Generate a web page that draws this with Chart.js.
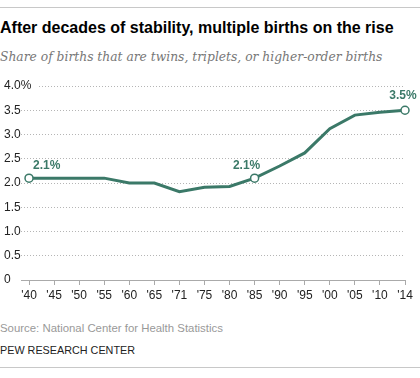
<!DOCTYPE html>
<html>
<head>
<meta charset="utf-8">
<script src="https://cdn.jsdelivr.net/npm/chart.js@4"></script>
<style>
  html, body { margin: 0; padding: 0; background: #fff; }
  body { width: 420px; height: 378px; position: relative; overflow: hidden; font-family: "Liberation Sans", Arial, sans-serif; }
  .rule { position: absolute; left: 0; width: 420px; height: 1px; background: #c8c8c8; }
  #title { position: absolute; left: 0; top: 18px; font-size: 16px; font-weight: bold; color: #000; white-space: nowrap; line-height: 20px; }
  #subtitle { position: absolute; left: 0; top: 48px; font-size: 12.3px; font-style: italic; color: #777; white-space: nowrap; font-family: "DejaVu Serif", "Liberation Serif", serif; line-height: 18px; }
  #wrap { position: absolute; left: 0; top: 70px; width: 420px; height: 240px; }
  #source { position: absolute; left: 0; top: 321px; font-size: 11.4px; color: #999; white-space: nowrap; line-height: 14px; }
  #org { position: absolute; left: 0; top: 343px; font-size: 10.8px; color: #222; white-space: nowrap; line-height: 14px; }
</style>
</head>
<body>
<div class="rule" style="top:7px"></div>
<div id="title">After decades of stability, multiple births on the rise</div>
<div id="subtitle">Share of births that are twins, triplets, or higher-order births</div>
<div id="wrap"><canvas id="c" width="420" height="240"></canvas></div>
<div id="source">Source: National Center for Health Statistics</div>
<div id="org">PEW RESEARCH CENTER</div>
<div class="rule" style="top:367px"></div>
<script>
const categories = ["'40","'45","'50","'55","'60","'65","'71","'75","'80","'85","'90","'95","'00","'05","'10","'14"];
const shareValues = [2.1, 2.1, 2.1, 2.1, 2.0, 2.0, 1.82, 1.91, 1.93, 2.1, 2.35, 2.62, 3.12, 3.4, 3.46, 3.5];
const yTickLabels = {0: "0", 0.5: "0.5", 1: "1.0", 1.5: "1.5", 2: "2.0", 2.5: "2.5", 3: "3.0", 3.5: "3.5", 4: "4.0%"};
const labelledPoints = [0, 9, 15];
const pointLabels = ["2.1%", "2.1%", "3.5%"];

const GREEN = '#3b7968';

const labelPlugin = {
  id: 'pointLabels',
  afterDatasetsDraw(chart) {
    const meta = chart.getDatasetMeta(0);
    const ctx = chart.ctx;
    ctx.save();
    ctx.font = 'bold 12px "Liberation Sans", Arial, sans-serif';
    ctx.fillStyle = GREEN;
    ctx.textBaseline = 'middle';
    labelledPoints.forEach((idx, k) => {
      const p = meta.data[idx];
      let x = p.x, y = p.y;
      if (k === 0) { ctx.textAlign = 'left'; x = p.x + 4; y = p.y - 12; }
      else if (k === 1) { ctx.textAlign = 'center'; x = p.x - 8; y = p.y - 12; }
      else { ctx.textAlign = 'center'; x = p.x - 2; y = p.y - 15; }
      ctx.fillText(pointLabels[k], x, y);
    });
    ctx.restore();
  }
};

new Chart(document.getElementById('c'), {
  type: 'line',
  data: {
    datasets: [{
      data: shareValues.map((v, i) => ({x: i, y: v})),
      borderColor: GREEN,
      borderWidth: 3,
      tension: 0,
      pointRadius: ctx => labelledPoints.includes(ctx.dataIndex) ? 4 : 0,
      pointHoverRadius: 0,
      pointBackgroundColor: '#fff',
      pointBorderColor: GREEN,
      pointBorderWidth: 1.5,
      clip: false
    }]
  },
  options: {
    responsive: false,
    animation: false,
    events: [],
    layout: { padding: { left: 4, right: 15, top: 16, bottom: 6 } },
    plugins: { legend: { display: false }, tooltip: { enabled: false } },
    scales: {
      x: {
        type: 'linear',
        min: -0.32,
        max: categories.length - 1,
        afterFit(s) { s.height = 24; },
        ticks: {
          stepSize: 1,
          includeBounds: false,
          autoSkip: false,
          maxRotation: 0,
          padding: 3,
          color: '#222',
          font: { size: 12, family: '"Liberation Sans", Arial, sans-serif' },
          callback: v => Number.isInteger(v) ? categories[v] : ''
        },
        grid: { drawOnChartArea: false, drawTicks: true, tickLength: 5, color: '#aaa', lineWidth: 1 },
        border: { display: true, color: '#aaa', width: 1 }
      },
      y: {
        min: 0,
        max: 4,
        afterFit(s) { s.width = 17; },
        ticks: {
          stepSize: 0.5,
          mirror: true,
          padding: -17,
          crossAlign: 'near',
          color: '#222',
          font: { size: 12, family: '"Liberation Sans", Arial, sans-serif' },
          callback: v => yTickLabels[v] !== undefined ? yTickLabels[v] : '',
          showLabelBackdrop: ctx => ctx.tick && ctx.tick.value === 4,
          backdropColor: '#fff',
          backdropPadding: { left: 0, right: 6, top: 1, bottom: 1 }
        },
        grid: {
          drawTicks: false,
          color: ctx => (ctx.tick && ctx.tick.value === 0) ? 'rgba(0,0,0,0)' : '#b5b5b5',
          lineWidth: 1
        },
        border: { display: false, dash: [1, 2] }
      }
    }
  },
  plugins: [labelPlugin]
});
</script>
</body>
</html>
